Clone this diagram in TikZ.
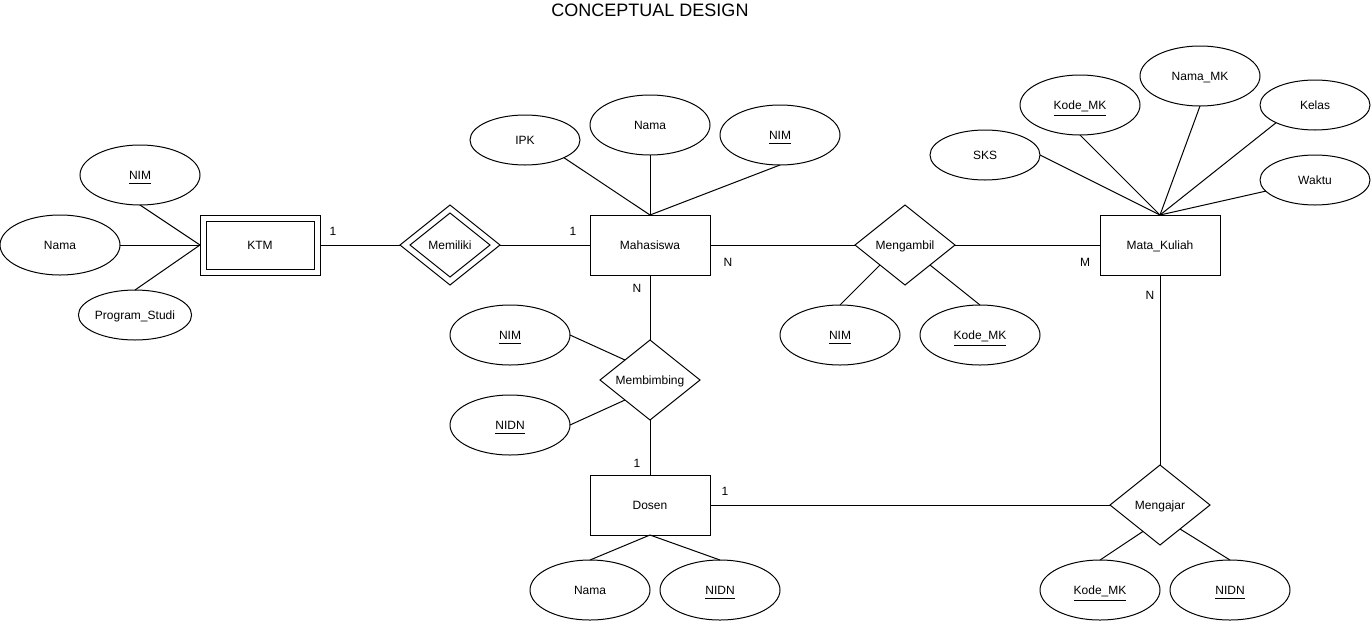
\documentclass[tikz,border=0pt]{standalone}
\usepackage{fontspec}
\setmainfont{Liberation Sans}
\usetikzlibrary{shapes.geometric,calc}
\newcommand{\garisbawah}[1]{\leavevmode\setbox0\hbox{#1}\copy0\kern-\wd0\raisebox{\dimexpr-\dp0-4.5pt\relax}[0pt][0pt]{\rule{\wd0}{1pt}}}

\begin{document}
\begin{tikzpicture}[x=1pt,y=-1pt,line width=1pt,
		every node/.style={font=\fontsize{12}{14}\selectfont,text height=8.6pt,text depth=0pt,inner sep=0pt,outer sep=0pt},
		entitas/.style={draw,rectangle,minimum width=120pt,minimum height=60pt},
		atribut/.style={draw,ellipse,minimum width=120pt,minimum height=60pt},
		atributkecil/.style={draw,ellipse,minimum width=110pt,minimum height=50pt},
		relasi/.style={draw,diamond,minimum width=100pt,minimum height=80pt},
		kardinal/.style={}]
	\useasboundingbox (0,0) rectangle (1371,622);
	\node[font=\fontsize{18}{21}\selectfont,text height=12.9pt] (judul) at (650,10) {CONCEPTUAL DESIGN};
	\node[entitas] (ktm) at (260,245) {};
	\node[entitas,minimum width=108pt,minimum height=48pt] (ktmdalam) at (260,245) {KTM};
	\node[relasi] (memiliki) at (450,245) {};
	\node[relasi,minimum width=80pt,minimum height=64pt] (memilikidalam) at (450,245) {Memiliki};
	\node[entitas] (mhs) at (650,245) {Mahasiswa};
	\node[relasi] (mengambil) at (905,245) {Mengambil};
	\node[entitas] (mk) at (1160,245) {Mata\_Kuliah};
	\node[relasi] (membimbing) at (650,380) {Membimbing};
	\node[entitas] (dosen) at (650,505) {Dosen};
	\node[relasi] (mengajar) at (1160,505) {Mengajar};
	\node[atribut] (ktmnim) at (140,175) {\garisbawah{NIM}};
	\node[atribut] (ktmnama) at (60,245) {Nama};
	\node[atributkecil] (ktmprodi) at (135,315) {Program\_Studi};
	\node[atributkecil] (mhsipk) at (525,140) {IPK};
	\node[atribut] (mhsnama) at (650,125) {Nama};
	\node[atribut] (mhsnim) at (780,135) {\garisbawah{NIM}};
	\node[atributkecil] (mksks) at (985,155) {SKS};
	\node[atribut] (mkkode) at (1080,105) {\garisbawah{Kode\_MK}};
	\node[atribut] (mknama) at (1200,76) {Nama\_MK};
	\node[atributkecil] (mkkelas) at (1315,105) {Kelas};
	\node[atributkecil] (mkwaktu) at (1315,180) {Waktu};
	\node[atribut] (ambilnim) at (840,335) {\garisbawah{NIM}};
	\node[atribut] (ambilkode) at (980,335) {\garisbawah{Kode\_MK}};
	\node[atribut] (bimbingnim) at (510,335) {\garisbawah{NIM}};
	\node[atribut] (bimbingnidn) at (510,425) {\garisbawah{NIDN}};
	\node[atribut] (dosennama) at (590,590) {Nama};
	\node[atribut] (dosennidn) at (720,590) {\garisbawah{NIDN}};
	\node[atribut] (ajarkode) at (1100,590) {\garisbawah{Kode\_MK}};
	\node[atribut] (ajarnidn) at (1230,590) {\garisbawah{NIDN}};
	\node[kardinal] (kktm) at (333,231) {1};
	\node[kardinal] (kmhskiri) at (573,231) {1};
	\node[kardinal] (kmhskanan) at (728,262) {N};
	\node[kardinal] (kmhsbawah) at (637,288) {N};
	\node[kardinal] (kdosenatas) at (637,463) {1};
	\node[kardinal] (kdosenkanan) at (725,491) {1};
	\node[kardinal] (kmkkiri) at (1085,262) {M};
	\node[kardinal] (kmkbawah) at (1150,295) {N};
	\draw (ktmnim.south)--(ktm.west);
	\draw (ktmnama.east)--(ktm.west);
	\draw (ktmprodi.north)--(ktm.west);
	\draw (ktm.east)--(memiliki.west);
	\draw (memiliki.east)--(mhs.west);
	\draw (mhsipk.south east)--(mhs.north);
	\draw (mhsnama.south)--(mhs.north);
	\draw (mhsnim.south)--(mhs.north);
	\draw (mhs.east)--(mengambil.west);
	\draw (mengambil.east)--(mk.west);
	\draw (mksks.east)--(mk.north);
	\draw (mkkode.south)--(mk.north);
	\draw (mknama.south)--(mk.north);
	\draw (mkkelas.south west)--(mk.north);
	\draw (mkwaktu)--(mk.north);
	\draw ($(mengambil.south)!0.5!(mengambil.west)$)--(ambilnim.north);
	\draw ($(mengambil.south)!0.5!(mengambil.east)$)--(ambilkode.north);
	\draw (mhs.south)--(membimbing.north);
	\draw (membimbing.south)--(dosen.north);
	\draw (bimbingnim.east)--($(membimbing.north)!0.5!(membimbing.west)$);
	\draw (bimbingnidn.east)--($(membimbing.south)!0.5!(membimbing.west)$);
	\draw (dosen.south)--(dosennama.north);
	\draw (dosen.south)--(dosennidn.north);
	\draw (dosen.east)--(mengajar.west);
	\draw (mk.south)--(mengajar.north);
	\draw (ajarkode.north)--($(mengajar.south)!0.34!(mengajar.west)$);
	\draw (ajarnidn.north)--($(mengajar.south)!0.4!(mengajar.east)$);
\end{tikzpicture}
\end{document}
